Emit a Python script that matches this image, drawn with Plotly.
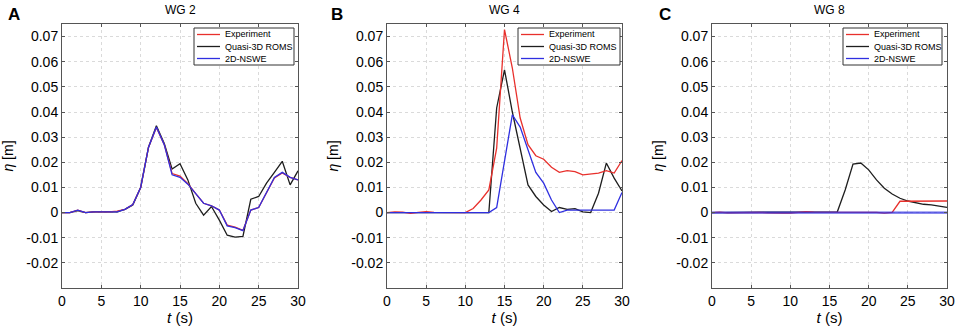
import plotly.graph_objects as go

t = list(range(31))

# Panel A: WG 2
A_exp = [0, 0, 0.001, 0, 0.0003, 0.0002, 0.0003, 0.0006, 0.0013, 0.0032, 0.010, 0.026, 0.0338, 0.027,
         0.0155, 0.0145, 0.0115, 0.0075, 0.0037, 0.0027, 0.001, -0.005, -0.0058, -0.0071, 0.001, 0.002,
         0.008, 0.0138, 0.0158, 0.014, 0.013]
A_roms = [0, 0, 0.0008, 0, 0.0003, 0.0002, 0.0003, 0.0003, 0.0013, 0.003, 0.010, 0.026, 0.0345, 0.0275,
          0.0173, 0.0194, 0.013, 0.0037, -0.001, 0.0024, -0.003, -0.009, -0.0098, -0.0095, 0.0053, 0.0064,
          0.0117, 0.016, 0.0204, 0.011, 0.0166]
A_nswe = [0, 0, 0.001, 0, 0.0003, 0.0002, 0.0003, 0.0003, 0.0013, 0.0032, 0.010, 0.026, 0.034, 0.027,
          0.015, 0.014, 0.0113, 0.0075, 0.0037, 0.0027, 0.001, -0.0053, -0.006, -0.0072, 0.001, 0.002,
          0.008, 0.014, 0.016, 0.014, 0.013]

# Panel B: WG 4
B_exp = [0, 0.0003, 0.0002, -0.0003, 0.0001, 0.0004, 0.0001, 0, 0, 0, 0, 0.0016, 0.005, 0.009, 0.0256,
         0.0728, 0.0575, 0.0376, 0.027, 0.0226, 0.0212, 0.018, 0.016, 0.0167, 0.0163, 0.015, 0.0154,
         0.0157, 0.0167, 0.0157, 0.0207]
B_roms = [0, 0, 0, 0, 0, 0, 0, 0, 0, 0, 0, 0, 0, 0, 0.0416, 0.0568, 0.040, 0.025, 0.011, 0.0064, 0.003,
          0.0004, 0.002, 0.0013, 0.0016, 0.0003, 0, 0.0077, 0.0197, 0.0137, 0.0086]
B_nswe = [0, 0, 0, 0, 0, 0, 0, 0, 0, 0, 0, 0, 0, 0, 0.002, 0.021, 0.0389, 0.034, 0.025, 0.016, 0.0117,
          0.005, 0, 0.001, 0.001, 0.001, 0.001, 0.001, 0.001, 0.001, 0.008]

# Panel C: WG 8
C_exp = [0, 0.0002, -0.0001, 0, 0.0001, 0.0002, 0.0001, -0.0001, 0, -0.0002, -0.0002, 0.0001, 0.0004,
         0.0002, 0.0002, 0.0002, 0.0003, 0.0002, 0.0002, 0.0003, 0.0001, 0.0001, -0.0002, 0.0001,
         0.0045, 0.0045, 0.0046, 0.0045, 0.0045, 0.0044, 0.0046]
C_roms = [0, 0, 0, 0, 0, 0, 0, 0, 0, 0, 0, 0, 0, 0, 0, 0, 0.0003, 0.009, 0.0193, 0.0197, 0.017, 0.013,
          0.0097, 0.0074, 0.0057, 0.0046, 0.004, 0.0033, 0.0031, 0.0027, 0.0021]
C_nswe = [0] * 31

titles = ["WG 2", "WG 4", "WG 8"]
letters = ["A", "B", "C"]
series_names = ["Experiment", "Quasi-3D ROMS", "2D-NSWE"]
y_ticks = [-0.02, -0.01, 0, 0.01, 0.02, 0.03, 0.04, 0.05, 0.06, 0.07]
y_ticktext = ["-0.02", "-0.01", "0", "0.01", "0.02", "0.03", "0.04", "0.05", "0.06", "0.07"]
x_ticks = [0, 5, 10, 15, 20, 25, 30]

panels = [(A_exp, A_roms, A_nswe), (B_exp, B_roms, B_nswe), (C_exp, C_roms, C_nswe)]
colors = ["#e8302c", "#1e1e1e", "#2f2fe0"]

W, H = 957, 331
x_left = [62, 387, 712]
x_right = [298, 622, 947]
y_top, y_bot = 24, 288
letter_x = [14, 337, 665]
leg_box = [(194, 294), (518, 620), (843, 942)]
leg_top, leg_bot = 28, 65
leg_rows = [34.5, 46.5, 58.5]

FONT = "Arial, Liberation Sans, sans-serif"
fig = go.Figure()


def px(x):
    return x / W


def py(y):
    return 1 - y / H


for i, (exp, roms, nswe) in enumerate(panels):
    xa = "x" if i == 0 else f"x{i+1}"
    ya = "y" if i == 0 else f"y{i+1}"
    vals = [exp, roms, nswe]
    for k in [1, 0, 2]:
        wide = (k == 2 and i == 2)
        fig.add_trace(go.Scatter(
            x=t, y=vals[k], mode="lines", name=series_names[k],
            line=dict(color=colors[k], width=2.2 if wide else 1.3),
            opacity=0.75 if wide else 1,
            xaxis=xa, yaxis=ya, showlegend=False,
        ))
    axis_common = dict(showgrid=True, gridcolor="#dadada", griddash="dot", gridwidth=1,
                       zeroline=False, showline=True, linecolor="#555555", linewidth=1,
                       mirror="ticks", ticks="inside", ticklen=3, tickcolor="#555555",
                       automargin=False,
                       tickfont=dict(family=FONT, size=14, color="#000"))
    fig.update_layout(**{
        ("xaxis" if i == 0 else f"xaxis{i+1}"): dict(
            domain=[px(x_left[i]), px(x_right[i])], range=[0, 30], tickvals=x_ticks,
            anchor=ya,
            title=dict(text="<i>t</i> (s)", font=dict(family=FONT, size=15, color="#000"), standoff=0),
            **axis_common),
        ("yaxis" if i == 0 else f"yaxis{i+1}"): dict(
            domain=[py(y_bot), py(y_top)], range=[-0.03, 0.075], tickvals=y_ticks,
            ticktext=y_ticktext, anchor=xa,
            title=dict(text="<i>η</i> [m]", font=dict(family=FONT, size=14, color="#000"), standoff=9),
            **axis_common),
    })
    fig.add_annotation(text=titles[i], x=px((x_left[i] + x_right[i]) / 2), y=py(10),
                       xref="paper", yref="paper", showarrow=False,
                       xanchor="center", yanchor="middle",
                       font=dict(family=FONT, size=12, color="#000"))
    fig.add_annotation(text=f"<b>{letters[i]}</b>", x=px(letter_x[i]), y=py(15),
                       xref="paper", yref="paper", showarrow=False,
                       xanchor="center", yanchor="middle",
                       font=dict(family=FONT, size=17, color="#000"))
    # legend box
    l, r = leg_box[i]
    fig.add_shape(type="rect", xref="paper", yref="paper", x0=px(l), x1=px(r),
                  y0=py(leg_bot), y1=py(leg_top), line=dict(color="#333", width=1),
                  fillcolor="white", layer="above")
    for k, name in enumerate(series_names):
        yr = leg_rows[k]
        fig.add_shape(type="line", xref="paper", yref="paper", x0=px(l + 3), x1=px(l + 26),
                      y0=py(yr), y1=py(yr), line=dict(color=colors[k], width=1.3), layer="above")
        fig.add_annotation(text=name, x=px(l + 29), y=py(yr), xref="paper", yref="paper",
                           xanchor="left", yanchor="middle", showarrow=False,
                           font=dict(family=FONT, size=9, color="#000"))

fig.update_layout(width=W, height=H, margin=dict(l=0, r=0, t=0, b=0),
                  paper_bgcolor="white", plot_bgcolor="white", showlegend=False)
fig.write_html("out.html", config={"displayModeBar": False},
               post_script="document.body.style.margin='0px';")
